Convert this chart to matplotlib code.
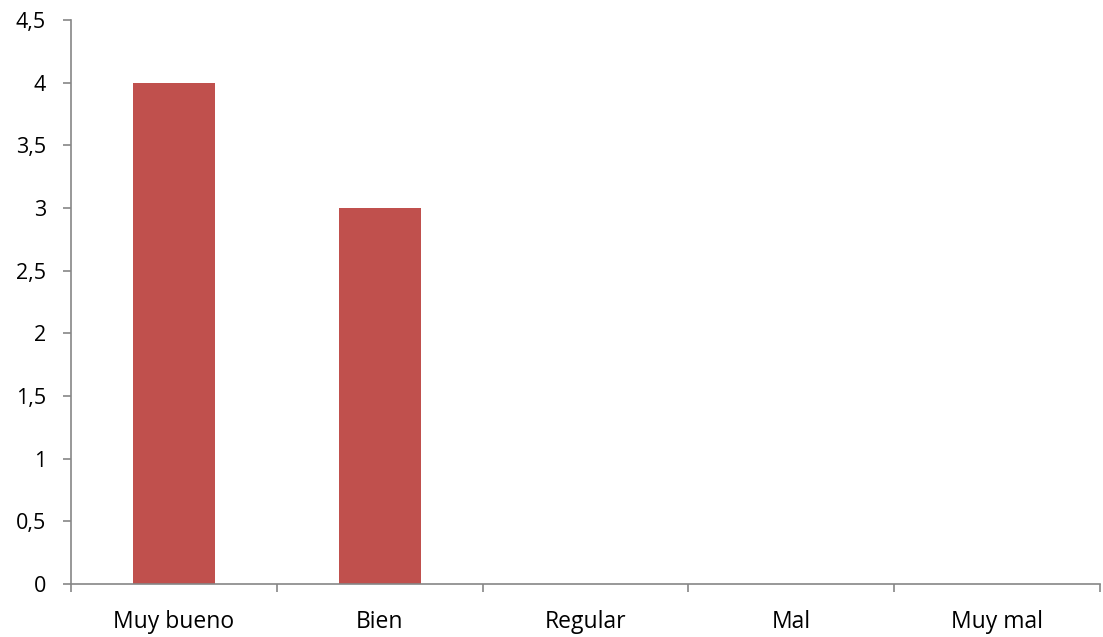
import matplotlib.pyplot as plt
import numpy as np

categories = ["Muy bueno", "Bien", "Regular", "Mal", "Muy mal"]
values = [4, 3, 0, 0, 0]
y_ticks = [0, 0.5, 1, 1.5, 2, 2.5, 3, 3.5, 4, 4.5]
y_labels = ["0", "0,5", "1", "1,5", "2", "2,5", "3", "3,5", "4", "4,5"]

plt.rcParams['font.family'] = ['Open Sans', 'DejaVu Sans']

fig = plt.figure(figsize=(11.03, 6.37), dpi=100)
ax = fig.add_axes([0.0644, 0.0832, 0.9329, 0.8854])

x = np.arange(len(categories))
ax.bar(x, values, width=0.4, color="#C0504D")

ax.set_xlim(-0.5, len(categories) - 0.5)
ax.set_ylim(0, 4.5)
ax.set_yticks(y_ticks)
ax.set_yticklabels(y_labels, fontsize=15.5)
ax.set_xticks(x)
ax.set_xticklabels(categories, fontsize=16.5)
ax.set_xticks(np.arange(len(categories) + 1) - 0.5, minor=True)

grey = "#868686"
for s in ["top", "right"]:
    ax.spines[s].set_visible(False)
for s in ["left", "bottom"]:
    ax.spines[s].set_color(grey)
    ax.spines[s].set_linewidth(1.2)

ax.tick_params(axis="x", which="major", length=0, pad=19)
ax.tick_params(axis="x", which="minor", length=6, color=grey, width=1.2)
ax.tick_params(axis="y", length=6, color=grey, width=1.2, pad=12)

fig.savefig("out.png", dpi=100)
